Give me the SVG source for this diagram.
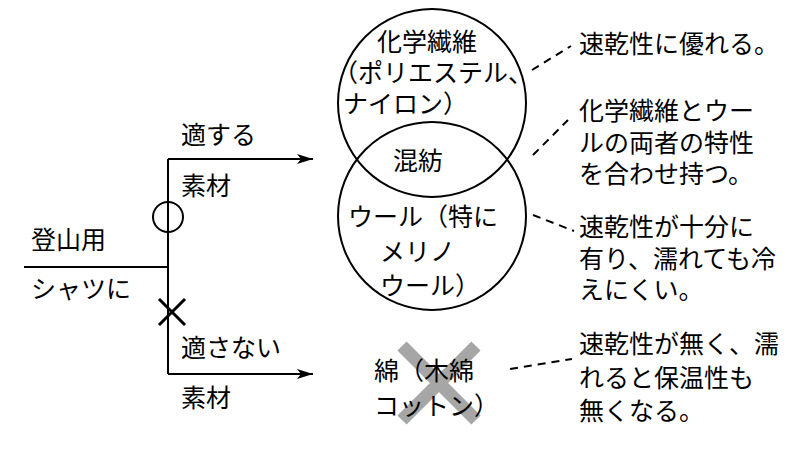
<svg xmlns="http://www.w3.org/2000/svg" width="800" height="450" viewBox="0 0 800 450">
<style>
text{font-family:"Noto Sans CJK JP","Noto Sans",sans-serif;font-size:25px;fill:#000}
.ln{stroke:#000;stroke-width:2;fill:none}
.cross{stroke:#000;stroke-width:3;fill:none}
.dash{stroke:#000;stroke-width:2;fill:none;stroke-dasharray:8 6}
.ring{stroke:#000;stroke-width:2;fill:none}
</style>
<defs>
<marker id="arr" viewBox="0 0 16 10" refX="16" refY="5" markerWidth="16" markerHeight="10" markerUnits="userSpaceOnUse" orient="auto">
<path d="M0,0 L16,5 L0,10 L4,5 z" fill="#000"/>
</marker>
</defs>
<rect width="800" height="450" fill="#fff"/>
<g id="connectors">
<path class="ln" d="M24,267 H168"/>
<path class="ln" d="M168,159 V374"/>
<path class="ln" d="M168,159 H313" marker-end="url(#arr)"/>
<path class="ln" d="M168,374 H313" marker-end="url(#arr)"/>
<path class="dash" d="M532,70 L571,46"/>
<path class="dash" d="M533,155 L568,120"/>
<path class="dash" d="M533,215 L574,231"/>
<path class="dash" d="M510,369 L572,359"/>
</g>
<g id="branch-labels">
<text x="181" y="144">適する</text>
<text x="181" y="195">素材</text>
<text x="31" y="249">登山用</text>
<text x="31" y="298">シャツに</text>
<text x="181" y="357">適さない</text>
<text x="181" y="407">素材</text>
</g>
<g id="mark-ok"><circle cx="168" cy="217" r="15" class="ring"/></g>
<g id="mark-ng"><path class="cross" d="M159,299 L185,325 M185,299 L159,325"/></g>
<g id="synthetic">
<circle cx="432" cy="103" r="94" class="ring"/>
<text x="377" y="51">化学繊維</text>
<text x="333" y="82">（ポリエステル、</text>
<text x="343" y="113">ナイロン）</text>
</g>
<g id="wool">
<circle cx="432" cy="216" r="94" class="ring"/>
<text x="348" y="226">ウール（特に</text>
<text x="380" y="261">メリノ</text>
<text x="380" y="295">ウール）</text>
</g>
<g id="blend">
<text x="393" y="170">混紡</text>
</g>
<g id="cotton">
<path d="M402,346 L476,420 M476,346 L402,420" stroke="#a6a6a6" stroke-width="13" fill="none"/>
<text x="374" y="380">綿（木綿</text>
<text x="374" y="415">コットン）</text>
</g>
<g id="note-synthetic"><text x="579" y="53">速乾性に優れる。</text></g>
<g id="note-blend">
<text x="579" y="120">化学繊維とウー</text>
<text x="579" y="152">ルの両者の特性</text>
<text x="579" y="183">を合わせ持つ。</text>
</g>
<g id="note-wool">
<text x="579" y="236">速乾性が十分に</text>
<text x="579" y="268">有り、濡れても冷</text>
<text x="579" y="299">えにくい。</text>
</g>
<g id="note-cotton">
<text x="579" y="353">速乾性が無く、濡</text>
<text x="579" y="387">れると保温性も</text>
<text x="579" y="420">無くなる。</text>
</g>
</svg>
